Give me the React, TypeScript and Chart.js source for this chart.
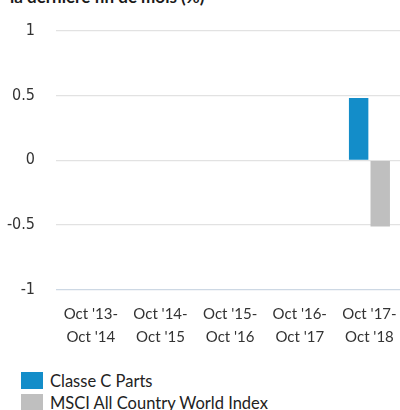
import React, { useEffect, useRef } from "react";
import { Chart, registerables } from "chart.js";

Chart.register(...registerables);

const categories: string[][] = [
  ["Oct '13-", "Oct '14"],
  ["Oct '14-", "Oct '15"],
  ["Oct '15-", "Oct '16"],
  ["Oct '16-", "Oct '17"],
  ["Oct '17-", "Oct '18"],
];
const seriesNames = ["Classe C Parts", "MSCI All Country World Index"];
const classeC: (number | null)[] = [null, null, null, null, 0.48];
const msci: (number | null)[] = [null, null, null, null, -0.51];
const seriesColors = ["#138dc9", "#bfbfbf"];
const yMin = -1;
const yMax = 1;
const yStep = 0.5;
const title = "la dernière fin de mois (%)";

export default function App() {
  const ref = useRef<HTMLCanvasElement | null>(null);
  useEffect(() => {
    if (!ref.current) return;
    const chart = new Chart(ref.current, {
      type: "bar",
      data: {
        labels: categories,
        datasets: [
          { label: seriesNames[0], data: classeC, backgroundColor: seriesColors[0], categoryPercentage: 0.62, barPercentage: 0.9 },
          { label: seriesNames[1], data: msci, backgroundColor: seriesColors[1], categoryPercentage: 0.62, barPercentage: 0.9 },
        ],
      },
      options: {
        animation: false,
        responsive: false,
        maintainAspectRatio: false,
        layout: { padding: { top: 10, right: 4, bottom: 0, left: 0 } },
        plugins: { legend: { display: false }, tooltip: { enabled: false }, title: { display: false } },
        scales: {
          x: {
            grid: { display: false, drawTicks: false },
            border: { display: false },
            ticks: {
              color: "#333",
              padding: 13,
              maxRotation: 0,
              autoSkip: false,
              font: { family: "Lato, 'Open Sans', sans-serif", size: 15, lineHeight: 23 / 15 },
            },
          },
          y: {
            min: yMin,
            max: yMax,
            afterFit: (scale: any) => {
              scale.width = 56;
            },
            grid: {
              drawTicks: false,
              color: (ctx: any) => (ctx.tick && ctx.tick.value === yMin ? "#cdd8e4" : "#e2e2e2"),
              lineWidth: 1.3,
            },
            border: { display: false },
            ticks: {
              stepSize: yStep,
              color: "#333",
              padding: 21,
              callback: (v: any) => String(Number(v)),
              font: { family: "'Liberation Sans Narrow', 'DejaVu Sans Condensed', 'Liberation Sans', sans-serif", size: 16 },
            },
          },
        },
      },
    });
    return () => chart.destroy();
  }, []);

  return (
    <div style={{ position: "absolute", left: 0, top: 0, width: 400, height: 410, overflow: "hidden", background: "#fff" }}>
      <div
        style={{
          position: "absolute",
          left: 10,
          top: -13,
          fontFamily: "Lato, 'Open Sans', sans-serif",
          fontWeight: 700,
          fontSize: 17,
          lineHeight: "20px",
          color: "#1a1a1a",
          whiteSpace: "nowrap",
        }}
      >
        {title}
      </div>
      <canvas ref={ref} width={410} height={362} style={{ position: "absolute", left: 0, top: 0, width: 410, height: 362 }} />
      {seriesNames.map((name, i) => (
        <div key={name} style={{ position: "absolute", left: 21, top: 372 + i * 22, height: 17, display: "flex", alignItems: "center" }}>
          <div style={{ width: 22, height: 17, background: seriesColors[i] }} />
          <span
            style={{
              marginLeft: 7,
              fontFamily: "Lato, 'Open Sans', sans-serif",
              fontSize: 16.5,
              color: "#222",
              whiteSpace: "nowrap",
            }}
          >
            {name}
          </span>
        </div>
      ))}
    </div>
  );
}
